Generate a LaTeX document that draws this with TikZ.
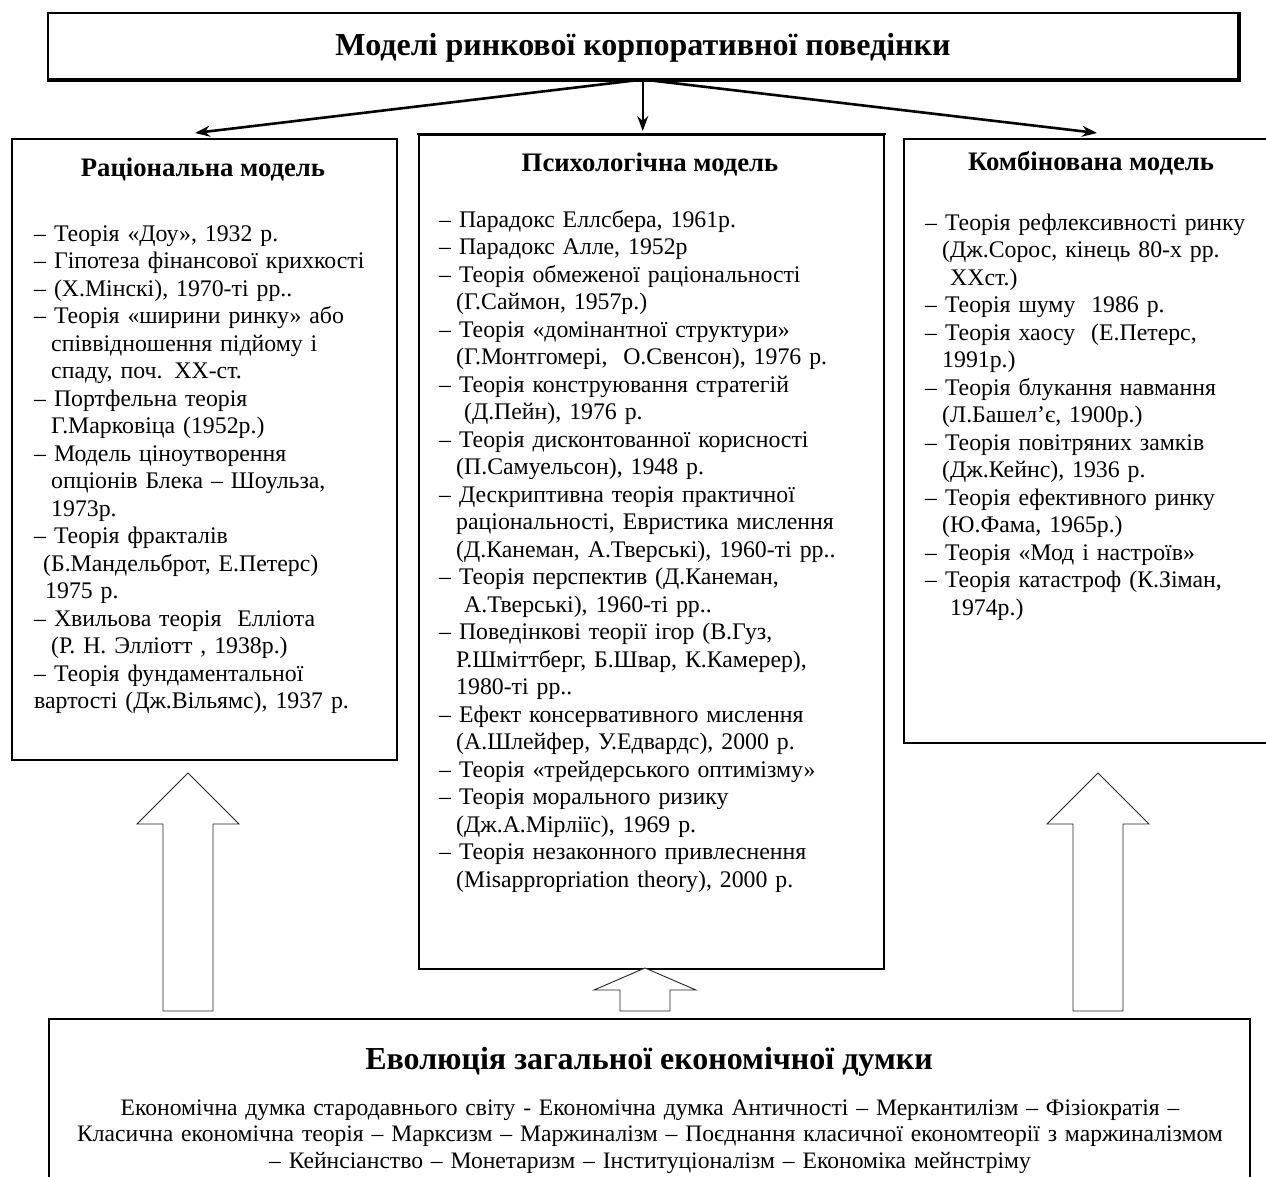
\documentclass[tikz,border=0pt]{standalone}
\usepackage{fontspec}
\setmainfont{Liberation Serif}
\usetikzlibrary{arrows.meta,calc}

\tikzset{
  panel/.style={draw=black, line width=1.5pt, fill=white, inner sep=0pt},
  listtext/.style={anchor=base west, inner sep=0pt, align=left, text width=520pt,
                   font=\fontsize{23.8}{27.5}\selectfont},
  headtext/.style={anchor=base, inner sep=0pt, font=\fontsize{26.7}{30}\selectfont\bfseries},
  titletext/.style={anchor=base, inner sep=0pt, font=\fontsize{32}{38}\selectfont\bfseries},
  link/.style={draw=black, -{Stealth[length=15pt,width=11pt,inset=5pt]}},
  hollow/.style={draw=black!85, line width=0.9pt, fill=white, line join=miter},
  edge shade/.style={draw=black, line width=2pt, line cap=rect},
}
% hanging indent for continuation lines
\newcommand\hang{\hspace*{17pt}}
% block arrow pointing up: x, tip y, head base y, bottom y, half head width, half shaft width
\newcommand\hollowarrow[6]{%
  \draw[hollow] (#1,#2) -- (#1+#5,#3) -- (#1+#6,#3) -- (#1+#6,#4)
    -- (#1-#6,#4) -- (#1-#6,#3) -- (#1-#5,#3) -- cycle;}

\begin{document}
\begin{tikzpicture}[x=1pt, y=-1pt]
\useasboundingbox (0,0) rectangle (1266,1176);
\fill[white] (0,0) rectangle (1266,1176);

% ---- top box ----
\node[panel, minimum width=1190pt, minimum height=66pt, anchor=north west] (top) at (47,12) {};
\draw[edge shade] ($(top.south west)+(1,1)$) -- ($(top.south east)+(1,1)$) -- ($(top.north east)+(1,1)$);
\node[titletext] (toptitle) at (643,55) {Моделі ринкової корпоративної поведінки};

% ---- three model boxes ----
\node[panel, minimum width=385pt, minimum height=621pt, anchor=north west] (lbox) at (11,138) {};
\node[panel, minimum width=465pt, minimum height=834pt, anchor=north west] (mbox) at (418,134) {};
\draw[edge shade] (mbox.north west) -- (mbox.north east);
\node[panel, minimum width=390pt, minimum height=604pt, anchor=north west] (rbox) at (903,138) {};

% ---- connectors from the top box ----
\draw[link, line width=2.6pt] (top.south) -- ($(lbox.north west)+(184,-5)$);
\draw[link, line width=1.5pt] (top.south) -- ($(top.south |- mbox.north)+(0,-3)$);
\draw[link, line width=2.6pt] (top.south) -- ($(rbox.north west)+(194,-5)$);

% ---- rational model ----
\node[headtext] (lhead) at (203,176) {Раціональна модель};
\node[listtext] (llist) at (34,241) {%
– Теорія «Доу», 1932 р.\\
– Гіпотеза фінансової крихкості\\
– (Х.Мінскі), 1970-ті рр..\\
– Теорія «ширини ринку» або\\
\hang співвідношення підйому і\\
\hang спаду, поч. ХХ-ст.\\
– Портфельна теорія\\
\hang Г.Марковіца (1952р.)\\
– Модель ціноутворення\\
\hang опціонів Блека – Шоульза,\\
\hang 1973р.\\
– Теорія фракталів\\
\hspace*{9pt}(Б.Мандельброт, Е.Петерс)\\
\hspace*{11pt}1975 р.\\
– Хвильова теорія \ Елліота\\
\hang (Р. Н. Элліотт , 1938р.)\\
– Теорія фундаментальної\\
вартості (Дж.Вільямс), 1937 р.};

% ---- psychological model ----
\node[headtext] (mhead) at (650,171) {Психологічна модель};
\node[listtext] (mlist) at (439,227) {%
– Парадокс Еллсбера, 1961р.\\
– Парадокс Алле, 1952р\\
– Теорія обмеженої раціональності\\
\hang (Г.Саймон, 1957р.)\\
– Теорія «домінантної структури»\\
\hang (Г.Монтгомері, \ О.Свенсон), 1976 р.\\
– Теорія конструювання стратегій\\
\hang\ (Д.Пейн), 1976 р.\\
– Теорія дисконтованної корисності\\
\hang (П.Самуельсон), 1948 р.\\
– Дескриптивна теорія практичної\\
\hang раціональності, Евристика мислення\\
\hang (Д.Канеман, А.Тверські), 1960-ті рр..\\
– Теорія перспектив (Д.Канеман,\\
\hang\ А.Тверські), 1960-ті рр..\\
– Поведінкові теорії ігор (В.Гуз,\\
\hang Р.Шміттберг, Б.Швар, К.Камерер),\\
\hang 1980-ті рр..\\
– Ефект консервативного мислення\\
\hang (А.Шлейфер, У.Едвардс), 2000 р.\\
– Теорія «трейдерського оптимізму»\\
– Теорія морального ризику\\
\hang (Дж.А.Мірліїс), 1969 р.\\
– Теорія незаконного привлеснення\\
\hang (Misappropriation theory), 2000 р.};

% ---- combined model ----
\node[headtext] (rhead) at (1091,170) {Комбінована модель};
\node[listtext] (rlist) at (925,230) {%
– Теорія рефлексивності ринку\\
\hang (Дж.Сорос, кінець 80-х рр.\\
\hang\ XXст.)\\
– Теорія шуму \ 1986 р.\\
– Теорія хаосу \ (Е.Петерс,\\
\hang 1991р.)\\
– Теорія блукання навмання\\
\hang (Л.Башел’є, 1900р.)\\
– Теорія повітряних замків\\
\hang (Дж.Кейнс), 1936 р.\\
– Теорія ефективного ринку\\
\hang (Ю.Фама, 1965р.)\\
– Теорія «Мод і настроїв»\\
– Теорія катастроф (К.Зіман,\\
\hang\ 1974р.)};

% ---- bottom box ----
\node[panel, minimum width=1201pt, minimum height=180pt, anchor=north west] (bot) at (48,1018) {};
\node[titletext] (bottitle) at (649,1069) {Еволюція загальної економічної думки};
\node[anchor=base, inner sep=0pt, align=center, text width=1240pt,
      font=\fontsize{23.6}{26.5}\selectfont] (botlist) at (650,1115) {%
Економічна думка стародавнього світу - Економічна думка Античності – Меркантилізм – Фізіократія –\\
Класична економічна теорія – Марксизм – Маржиналізм – Поєднання класичної економтеорії з маржиналізмом\\
– Кейнсіанство – Монетаризм – Інституціоналізм – Економіка мейнстріму};

% ---- block arrows from the bottom box ----
\hollowarrow{188}{773}{824}{1011}{51}{25}
\hollowarrow{645}{968}{990}{1011}{51}{25}
\hollowarrow{1098}{773}{824}{1011}{51}{25}
\end{tikzpicture}
\end{document}
